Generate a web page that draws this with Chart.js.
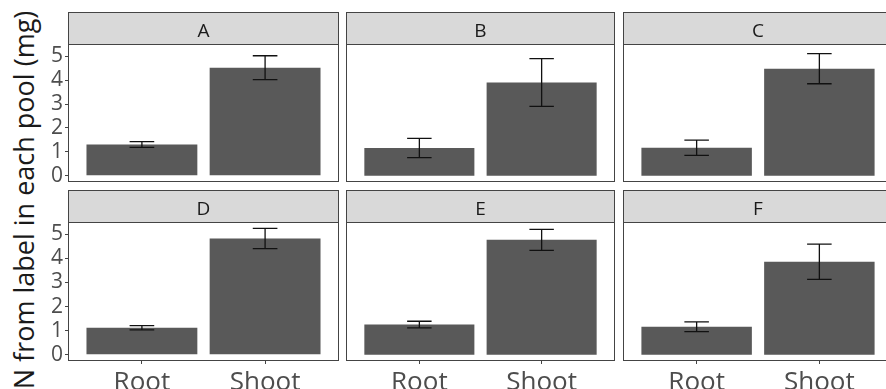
<!DOCTYPE html>
<html>
<head>
<meta charset="utf-8">
<script src="https://cdn.jsdelivr.net/npm/chart.js@4/dist/chart.umd.min.js"></script>
<style>
  html, body { margin: 0; padding: 0; background: #ffffff; }
  #wrap { position: relative; width: 886px; height: 389px; overflow: hidden; background: #ffffff; }
  #wrap canvas { position: absolute; }
  #ytitle {
    position: absolute; left: 23px; top: 200px;
    transform: translate(-50%, -50%) rotate(-90deg);
    white-space: nowrap; font: 27px 'Open Sans', sans-serif; line-height: 1; color: #1a1a1a;
  }
</style>
</head>
<body>
<div id="wrap">
  <div id="ytitle">N from label in each pool (mg)</div>
</div>
<script>
// Facet labels and x categories
const panels = ['A', 'B', 'C', 'D', 'E', 'F'];
const categories = ['Root', 'Shoot'];

// Mean N (mg) and standard error per facet
const rootMean  = [1.31, 1.16, 1.17, 1.12, 1.25, 1.16];
const rootSE    = [0.12, 0.40, 0.32, 0.09, 0.14, 0.20];
const shootMean = [4.52, 3.90, 4.48, 4.83, 4.77, 3.86];
const shootSE   = [0.50, 1.00, 0.63, 0.42, 0.44, 0.73];

// Y axis tick values
const yTicks = [0, 1, 2, 3, 4, 5];

// Shared y range: 0..max(upper error) with 5% expansion on both sides
const yTop = Math.max(...rootMean.map((m, i) => m + rootSE[i]), ...shootMean.map((m, i) => m + shootSE[i]));
const yMin = -0.05 * yTop;
const yMax = 1.05 * yTop;

Chart.defaults.font.family = "'Open Sans', sans-serif";

const STRIP_H = 32;
const AXIS_W = 38;   // room for y tick labels (left column)
const AXIS_H = 28;   // room for x tick labels (bottom row)
const colLeft = [68, 346, 623];
const colWidth = [271, 269, 270];
const rowTop = [12, 190];
const rowHeight = [178, 199];

const wrap = document.getElementById('wrap');

function makeFacet(i) {
  const col = i % 3, row = Math.floor(i / 3);
  const showY = col === 0, showX = row === 1;
  const canvas = document.createElement('canvas');
  const left = showY ? colLeft[col] - AXIS_W : colLeft[col];
  const width = colWidth[col] + (showY ? AXIS_W : 0);
  canvas.width = width;
  canvas.height = rowHeight[row];
  canvas.style.left = left + 'px';
  canvas.style.top = rowTop[row] + 'px';
  canvas.style.width = width + 'px';
  canvas.style.height = rowHeight[row] + 'px';
  wrap.appendChild(canvas);

  const means = [rootMean[i], shootMean[i]];
  const errs = [rootSE[i], shootSE[i]];

  // Grey facet strip above the panel, and the panel frame
  const stripPlugin = {
    id: 'strip',
    beforeDraw(chart) {
      const { ctx, chartArea: a } = chart;
      ctx.save();
      ctx.fillStyle = '#d9d9d9';
      ctx.fillRect(a.left, a.top - STRIP_H, a.right - a.left, STRIP_H);
      ctx.strokeStyle = '#444444';
      ctx.lineWidth = 1;
      ctx.strokeRect(a.left + 0.5, a.top - STRIP_H + 0.5, a.right - a.left - 1, STRIP_H);
      ctx.fillStyle = '#1a1a1a';
      ctx.font = "19px 'Open Sans', sans-serif";
      ctx.textAlign = 'center';
      ctx.textBaseline = 'alphabetic';
      ctx.fillText(panels[i], (a.left + a.right) / 2, a.top - STRIP_H + 25);
      ctx.restore();
    },
    afterDraw(chart) {
      const { ctx, chartArea: a } = chart;
      ctx.save();
      ctx.strokeStyle = '#444444';
      ctx.lineWidth = 1;
      ctx.strokeRect(a.left + 0.5, a.top + 0.5, a.right - a.left - 1, a.bottom - a.top - 1);
      ctx.restore();
    }
  };

  // Mean ± SE whiskers with caps
  const errorBars = {
    id: 'errorBars',
    afterDatasetsDraw(chart) {
      const { ctx, scales: { x, y } } = chart;
      ctx.save();
      ctx.strokeStyle = '#111111';
      ctx.lineWidth = 1.3;
      means.forEach((m, k) => {
        const cx = x.getPixelForValue(k + 1);
        const hw = x.getPixelForValue(k + 1.1) - cx;
        const top = y.getPixelForValue(m + errs[k]);
        const bot = y.getPixelForValue(m - errs[k]);
        ctx.beginPath();
        ctx.moveTo(cx - hw, top); ctx.lineTo(cx + hw, top);
        ctx.moveTo(cx, top); ctx.lineTo(cx, bot);
        ctx.moveTo(cx - hw, bot); ctx.lineTo(cx + hw, bot);
        ctx.stroke();
      });
      ctx.restore();
    }
  };

  new Chart(canvas, {
    type: 'bar',
    data: {
      datasets: [{
        data: means.map((m, k) => ({ x: k + 1, y: m })),
        backgroundColor: '#595959',
        borderWidth: 0,
        barPercentage: 0.9,
        categoryPercentage: 1.0
      }]
    },
    options: {
      responsive: false,
      animation: false,
      devicePixelRatio: 1,
      layout: { autoPadding: false, padding: { top: STRIP_H, left: 0, right: 0, bottom: showX ? 0 : 8 } },
      plugins: { legend: { display: false }, tooltip: { enabled: false } },
      scales: {
        x: {
          type: 'linear',
          min: 0.4, max: 2.6,
          offset: false,
          display: showX,
          afterBuildTicks(s) { s.ticks = categories.map((c, k) => ({ value: k + 1 })); },
          afterFit(s) { s.height = showX ? AXIS_H : 0; s.paddingLeft = 0; s.paddingRight = 0; },
          ticks: {
            autoSkip: false, maxRotation: 0, padding: 3,
            color: '#4d4d4d', font: { size: 26 },
            callback: (v) => categories[Math.round(v) - 1]
          },
          grid: { display: true, offset: false, drawOnChartArea: false, drawTicks: true, tickLength: 3, tickColor: '#444444', tickWidth: 1 },
          border: { display: false }
        },
        y: {
          type: 'linear',
          min: yMin, max: yMax,
          display: showY,
          afterBuildTicks(s) { s.ticks = yTicks.map(v => ({ value: v })); },
          afterFit(s) { s.width = showY ? AXIS_W : 0; s.paddingTop = 0; s.paddingBottom = 0; },
          ticks: {
            autoSkip: false, padding: 2, color: '#4d4d4d', font: { size: 21 },
            callback: (v) => String(v)
          },
          grid: { display: true, drawOnChartArea: false, drawTicks: true, tickLength: 3, tickColor: '#444444', tickWidth: 1 },
          border: { display: false }
        }
      }
    },
    plugins: [stripPlugin, errorBars]
  });
}

panels.forEach((p, i) => makeFacet(i));
</script>
</body>
</html>
